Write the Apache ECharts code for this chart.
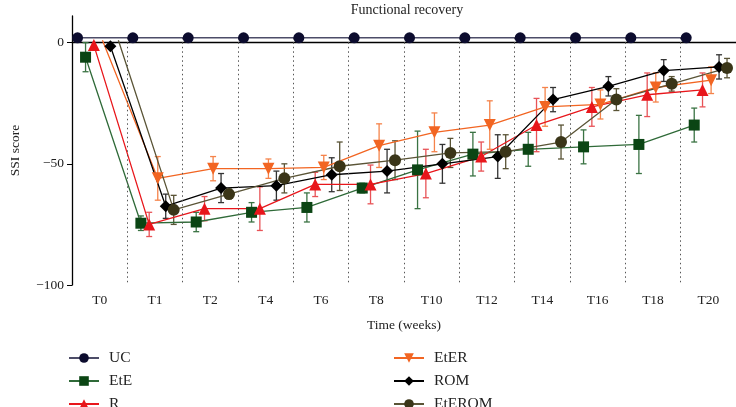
<!DOCTYPE html>
<html><head><meta charset="utf-8">
<script src="https://cdn.jsdelivr.net/npm/echarts@6/dist/echarts.min.js"></script>
<style>html,body{margin:0;padding:0;background:#fff}#c{width:736px;height:407px}</style>
</head><body><div id="c"></div>
<script>
const labels = ['T0','T1','T2','T4','T6','T8','T10','T12','T14','T16','T18','T20'];
const seriesNames = ['UC','EtE','R','EtER','ROM','EtEROM'];
const UC      = [2, 2, 2, 2, 2, 2, 2, 2, 2, 2, 2, 2];
const UC_err  = [0, 0, 0, 0, 0, 0, 0, 0, 0, 0, 0, 0];
const EtE     = [-6, -74.5, -74, -70, -68, -60, -52.5, -46, -44, -43, -42, -34];
const EtE_err = [6, 3, 4, 4, 6, 2, 16, 9, 7, 7, 12, 7];
const R       = [-1, -75, -68.5, -68.5, -58.5, -58.5, -54, -47, -34, -26.5, -21.5, -19.5];
const R_err   = [0, 5, 5, 9, 5, 8, 10, 6, 11, 8, 9, 7];
const EtER    = [1, -56, -52, -52, -51.5, -42.5, -37, -34, -26.5, -25.5, -18.5, -15.5];
const EtER_err= [0, 9, 5, 4, 5, 9, 8, 10, 8, 6, 6, 5.5];
const ROM     = [-1.5, -67.5, -60, -59, -54.5, -53, -50, -47, -23.5, -18, -11.5, -10];
const ROM_err = [0, 5, 6, 6, 7, 9, 8, 9, 5, 4, 4.5, 5];
const EtEROM  = [1, -69, -62.5, -56, -51, -48.5, -45.5, -45, -41, -23.5, -17, -10.5];
const EtEROM_err = [0, 6, 2, 6, 10, 8, 6, 7, 7, 4.5, 3, 4];
const yTicks = [-100, -50, 0];

const values = [UC, EtE, R, EtER, ROM, EtEROM];
const errs = [UC_err, EtE_err, R_err, EtER_err, ROM_err, EtEROM_err];
const offsets = [0.1, 0.245, 0.395, 0.55, 0.694, 0.838];
const hiddenFirst = [false, false, false, true, false, true];
const styles = [
  {symbol:'circle', size:11, mark:'#0c0c2e', line:'#4d4d68', err:'#4d4d68', rot:0},
  {symbol:'rect', size:11, mark:'#0b4514', line:'#2f6a38', err:'#3a7343', rot:0},
  {symbol:'triangle', size:12, mark:'#e8161b', line:'#e8161b', err:'#e85357', rot:0},
  {symbol:'triangle', size:12, mark:'#f26522', line:'#f26522', err:'#f5834a', rot:180},
  {symbol:'diamond', size:12, mark:'#000000', line:'#000000', err:'#333333', rot:0},
  {symbol:'circle', size:12, mark:'#3a3518', line:'#5a5436', err:'#5a5436', rot:0}
];
const FONT = '"Liberation Serif","DejaVu Serif",serif';

const series = [];
values.forEach((vals, si) => {
  const st = styles[si];
  series.push({
    type:'custom', name: seriesNames[si] + '_err', silent:true, z:3,
    data: vals.map((v,i)=>[i+offsets[si], v, errs[si][i]]),
    renderItem: function(params, api){
      const x = api.value(0), y = api.value(1), e = api.value(2);
      if (!e) return null;
      const top = api.coord([x, y + e]), bot = api.coord([x, y - e]);
      const s = {stroke: st.err, lineWidth: 1.3};
      return {type:'group', children:[
        {type:'line', shape:{x1:top[0], y1:top[1], x2:bot[0], y2:bot[1]}, style:s},
        {type:'line', shape:{x1:top[0]-3, y1:top[1], x2:top[0]+3, y2:top[1]}, style:s},
        {type:'line', shape:{x1:bot[0]-3, y1:bot[1], x2:bot[0]+3, y2:bot[1]}, style:s}
      ]};
    }
  });
  series.push({
    type:'line', name: seriesNames[si], z: si===0 ? 6 : 4,
    symbol: st.symbol, symbolSize: st.size, symbolRotate: st.rot,
    itemStyle:{color: st.mark, borderWidth:0},
    lineStyle:{color: st.line, width: si===0 ? 1.6 : 1.3},
    data: vals.map((v,i)=>{
      const d = {value:[i+offsets[si], v]};
      if (i===0 && hiddenFirst[si]) d.symbolSize = 0;
      return d;
    }),
    animation:false
  });
});
// dotted separators between categories
series.push({
  type:'line', name:'sep', data:[], silent:true,
  markLine:{symbol:['none','none'], silent:true, label:{show:false},
    lineStyle:{color:'#555', type:[1.5,3], width:1},
    data: labels.slice(1).map((_,k)=>[{coord:[k+1, UC[k]]},{coord:[k+1, -100]}])
  }
});

const legends = seriesNames.map((n, i) => ({
  data:[n], left: i < 3 ? 68 : 393, top: 350 + (i % 3) * 23, padding:0,
  itemWidth:30, itemHeight:12, itemGap:0,
  textStyle:{fontFamily:FONT, fontSize:15.5, color:'#222', padding:[0,0,0,5]}
}));

const chart = echarts.init(document.getElementById('c'), null, {renderer:'canvas'});
chart.setOption({
  animation:false,
  backgroundColor:'#fff',
  title:{text:'Functional recovery', left:402, textAlign:'center', top:-2,
    textStyle:{fontFamily:FONT, fontSize:14, fontWeight:'normal', color:'#222'}},
  grid:{left:71.5, top:16, width:666, height:269},
  xAxis:{type:'value', min:0, max:labels.length, interval:0.5,
    name:'Time (weeks)', nameLocation:'middle', nameGap:33,
    nameTextStyle:{fontFamily:FONT, fontSize:13.5, color:'#222'},
    axisLine:{lineStyle:{color:'#000', width:1.3}},
    axisTick:{show:false}, splitLine:{show:false},
    axisLabel:{fontFamily:FONT, fontSize:13.5, color:'#222', margin:8, showMaxLabel:false, showMinLabel:false,
      formatter: v => (Math.abs(v%1-0.5)<1e-6) ? labels[Math.floor(v)] : ''}
  },
  yAxis:{type:'value', min:-100, max:11,
    name:'SSI score', nameLocation:'middle', nameGap:50, nameRotate:90,
    nameTextStyle:{fontFamily:FONT, fontSize:13.5, color:'#222'},
    axisLine:{show:true, lineStyle:{color:'#000', width:1.3}},
    axisTick:{show:true, length:5, customValues:yTicks, lineStyle:{color:'#000'}},
    splitLine:{show:false},
    axisLabel:{fontFamily:FONT, fontSize:13.5, color:'#222', margin:8, customValues:yTicks,
      formatter: v => v<0 ? '\u2212'+Math.abs(v) : String(v)}
  },
  legend: legends,
  series: series
});
</script></body></html>
